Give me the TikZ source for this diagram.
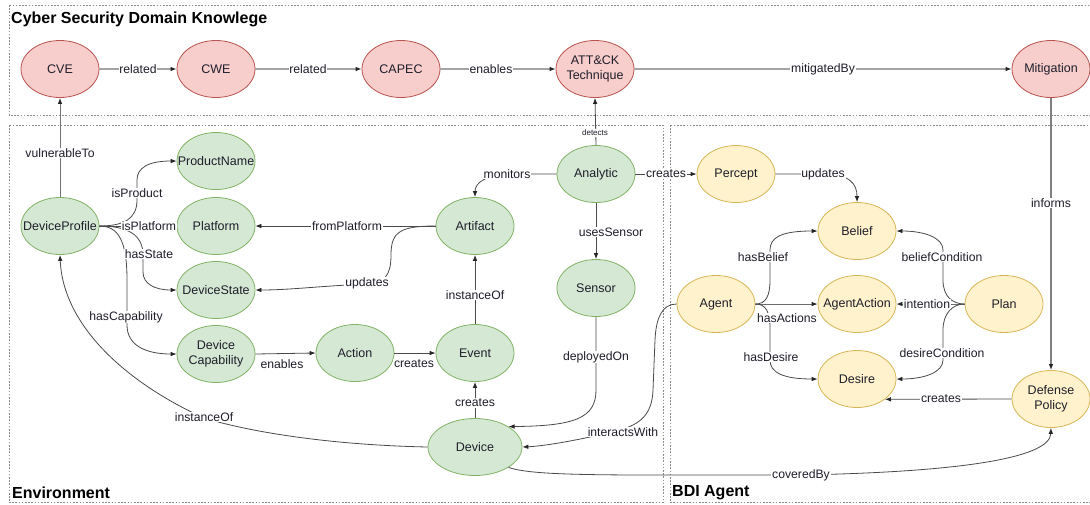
\documentclass[tikz,border=0pt]{standalone}
\usepackage{fontspec}
\setmainfont{Liberation Sans}
\usetikzlibrary{arrows.meta,shapes.geometric}

\definecolor{redfill}{HTML}{F8CECC}
\definecolor{redline}{HTML}{B85450}
\definecolor{grnfill}{HTML}{D5E8D4}
\definecolor{grnline}{HTML}{82B366}
\definecolor{ylwfill}{HTML}{FFF2CC}
\definecolor{ylwline}{HTML}{D6B656}
\definecolor{ink}{HTML}{1E1E2A}
\definecolor{wire}{HTML}{4A4A4A}
\definecolor{lightwire}{HTML}{A3A3A3}
\definecolor{framegray}{HTML}{8A8A8A}

% zero-width box so the ellipse keeps its fixed size
\newcommand{\zw}[1]{\makebox[0pt][c]{#1}}
\newcommand{\twoline}[2]{\makebox[0pt][c]{\begin{tabular}{@{}c@{}}#1\\#2\end{tabular}}}

\begin{document}
\begin{tikzpicture}[
  x=1pt, y=-1pt,
  font=\fontsize{12.5}{14.5}\selectfont, text=ink,
  concept/.style={ellipse, draw, line width=0.8pt, minimum width=78pt,
    minimum height=57pt, inner sep=0pt},
  threat/.style={concept, fill=redfill, draw=redline},
  envnode/.style={concept, fill=grnfill, draw=grnline},
  agentnode/.style={concept, fill=ylwfill, draw=ylwline},
  link/.style={draw=wire, line width=0.8pt,
    -{Latex[length=6pt,width=4.6pt,color=black!85]}},
  kblink/.style={link, draw=lightwire, line width=1.6pt},
  lbl/.style={fill=white, inner sep=0.8pt, font=\fontsize{12.2}{14}\selectfont},
  tinylbl/.style={fill=white, inner sep=0.6pt, font=\fontsize{8}{9}\selectfont},
  area/.style={draw=framegray, line width=0.8pt, dash pattern=on 1.6pt off 1.6pt},
  heading/.style={anchor=west, inner sep=0pt, text=black,
    font=\bfseries\fontsize{16}{18}\selectfont},
]
\useasboundingbox (0,0) rectangle (1090,504);

% ---- grouping frames ----
\draw[area] (9,5) rectangle (1100,115);
\draw[area] (9,125) rectangle (663,502.5);
\draw[area] (670,125) rectangle (1100,502.5);

\node[heading] (hCyber) at (11,19) {Cyber Security Domain Knowlege};
\node[heading] (hEnv) at (12,493) {Environment};
\node[heading] (hBdi) at (672,493) {BDI Agent};

% ---- cyber security knowledge ----
\node[threat] (cve) at (60,69) {\zw{CVE}};
\node[threat] (cwe) at (216,69) {\zw{CWE}};
\node[threat] (capec) at (401,69) {\zw{CAPEC}};
\node[threat] (attck) at (595,69) {\twoline{ATT\&CK}{Technique}};
\node[threat] (mitig) at (1051,69) {\zw{Mitigation}};

% ---- environment ----
\node[envnode] (devprof) at (60,226) {\zw{DeviceProfile}};
\node[envnode] (pname) at (216,161) {\zw{ProductName}};
\node[envnode] (platf) at (216,226) {\zw{Platform}};
\node[envnode] (dstate) at (216,290) {\zw{DeviceState}};
\node[envnode] (devcap) at (216,354) {\twoline{Device}{Capability}};
\node[envnode] (action) at (355,353) {\zw{Action}};
\node[envnode] (artif) at (475,226) {\zw{Artifact}};
\node[envnode] (event) at (475,353) {\zw{Event}};
\node[envnode, minimum width=94pt] (device) at (475,447) {\zw{Device}};
\node[envnode] (analytic) at (596,174) {\zw{Analytic}};
\node[envnode] (sensor) at (596,288) {\zw{Sensor}};

% ---- BDI agent ----
\node[agentnode] (percept) at (736,174) {\zw{Percept}};
\node[agentnode] (belief) at (857,231) {\zw{Belief}};
\node[agentnode] (agent) at (716,304) {\zw{Agent}};
\node[agentnode] (agact) at (857,304) {\zw{AgentAction}};
\node[agentnode] (plan) at (1004,304) {\zw{Plan}};
\node[agentnode] (desire) at (857,379) {\zw{Desire}};
\node[agentnode] (defpol) at (1051,399) {\twoline{Defense}{Policy}};

% ---- knowledge chain ----
\draw[kblink] (cve.east) -- (cwe.west);
\draw[kblink] (cwe.east) -- (capec.west);
\draw[kblink] (capec.east) -- (attck.west);
\draw[kblink] (attck.east) -- (mitig.west);
\draw[link, draw=gray, line width=1.4pt] (mitig.south) -- (defpol.north);
\draw[link, draw=gray!90!black, line width=1pt] (devprof.north) -- (cve.south);
\draw[link] (analytic.north) -- (attck.south);

% ---- device profile relations ----
\draw[link] (devprof.east) .. controls (125,226) and (137,218) .. (137,200)
  -- (137,180) .. controls (137,168) and (148,161) .. (pname.west);
\draw[link] (devprof.east) -- (platf.west);
\draw[link] (devprof.east) .. controls (128,226) and (143,235) .. (143,255)
  -- (143,272) .. controls (143,284) and (155,290) .. (dstate.west);
\draw[link] (devprof.east) .. controls (118,226) and (127,240) .. (127,280)
  -- (127,325) .. controls (127,345) and (145,354) .. (devcap.west);
\draw[link] (device.west) .. controls (330,445) and (250,432) .. (204,418)
  .. controls (125,382) and (63,325) .. (devprof.south);

% ---- artifacts, events, sensing ----
\draw[link] (artif.west) -- (platf.east);
\draw[link] (artif.west) .. controls (400,226) and (391,232) .. (391,255)
  .. controls (391,275) and (385,283) .. (367,284)
  .. controls (320,286) and (290,290) .. (dstate.east);
\draw[link] (analytic.west) -- (515,174) .. controls (485,174) and (475,183) .. (artif.north);
\draw[link] (analytic.south) -- (sensor.north);
\draw[link] (analytic.east) -- (percept.west);
\draw[link] (sensor.south) -- (596,390) .. controls (596,418) and (575,426) .. (device.north east);
\draw[link] (event.north) -- (artif.south);
\draw[link] (device.north) -- (event.south);
\draw[link] (devcap.east) -- (action.west);
\draw[link] (action.east) -- (event.west);
\draw[link] (agent.west) .. controls (662,304) and (656,318) .. (655,340)
  -- (653,390) .. controls (652,415) and (640,424) .. (620,430)
  .. controls (580,440) and (545,446) .. (device.east);
\draw[link] (device.south east) .. controls (525,473) and (560,475) .. (650,475)
  -- (801,475) .. controls (960,472) and (1050,458) .. (defpol.south);

% ---- agent reasoning ----
\draw[link] (percept.east) -- (823,174) .. controls (850,174) and (857,184) .. (belief.north);
\draw[link] (agent.east) .. controls (766,304) and (770,296) .. (770,280)
  -- (770,250) .. controls (770,238) and (780,231) .. (belief.west);
\draw[link, draw=gray!85!black] (agent.east) -- (agact.west);
\draw[link] (agent.east) .. controls (766,304) and (770,312) .. (770,328)
  -- (770,360) .. controls (770,372) and (782,379) .. (desire.west);
\draw[link] (plan.west) .. controls (952,304) and (943,296) .. (943,280)
  -- (943,250) .. controls (943,238) and (925,231) .. (belief.east);
\draw[link, draw=gray!85!black] (plan.west) -- (agact.east);
\draw[link] (plan.west) .. controls (952,304) and (943,314) .. (943,330)
  -- (943,360) .. controls (943,372) and (925,379) .. (desire.east);
\draw[link] (defpol.west) -- (desire.-36);

% ---- connector labels ----
\node[lbl] (lRel1) at (138,69) {related};
\node[lbl] (lRel2) at (308,69) {related};
\node[lbl] (lEnab) at (491,69) {enables};
\node[lbl] (lMit) at (823,69) {mitigatedBy};
\node[lbl] (lInf) at (1051,203) {informs};
\node[lbl] (lVuln) at (60,153) {vulnerableTo};
\node[tinylbl] (lDet) at (595,133) {detects};
\node[lbl] (lProd) at (137,193) {isProduct};
\node[lbl] (lPlat) at (149,226) {isPlatform};
\node[lbl] (lState) at (149,254) {hasState};
\node[lbl] (lCap) at (126,317) {hasCapability};
\node[lbl] (lInst1) at (204,417) {instanceOf};
\node[lbl] (lFrom) at (347,226) {fromPlatform};
\node[lbl] (lUpd1) at (367,283) {updates};
\node[lbl] (lMon) at (507,174) {monitors};
\node[lbl] (lUses) at (611,232) {usesSensor};
\node[lbl] (lCre1) at (666,174) {creates};
\node[lbl] (lDep) at (596,357) {deployedOn};
\node[lbl] (lInst2) at (475,295) {instanceOf};
\node[lbl] (lCre2) at (475,403) {creates};
\node[lbl] (lEnab2) at (282,364) {enables};
\node[lbl] (lCre3) at (414,364) {creates};
\node[lbl] (lInter) at (623,432) {interactsWith};
\node[lbl] (lCov) at (801,475) {coveredBy};
\node[lbl] (lUpd2) at (823,174) {updates};
\node[lbl] (lBel) at (763,257) {hasBelief};
\node[lbl] (lAct) at (787,318) {hasActions};
\node[lbl] (lDes) at (771,357) {hasDesire};
\node[lbl] (lBc) at (942,257) {beliefCondition};
\node[lbl] (lInt) at (927,304) {intention};
\node[lbl] (lDc) at (942,353) {desireCondition};
\node[lbl] (lCre4) at (941,399) {creates};
\end{tikzpicture}
\end{document}
